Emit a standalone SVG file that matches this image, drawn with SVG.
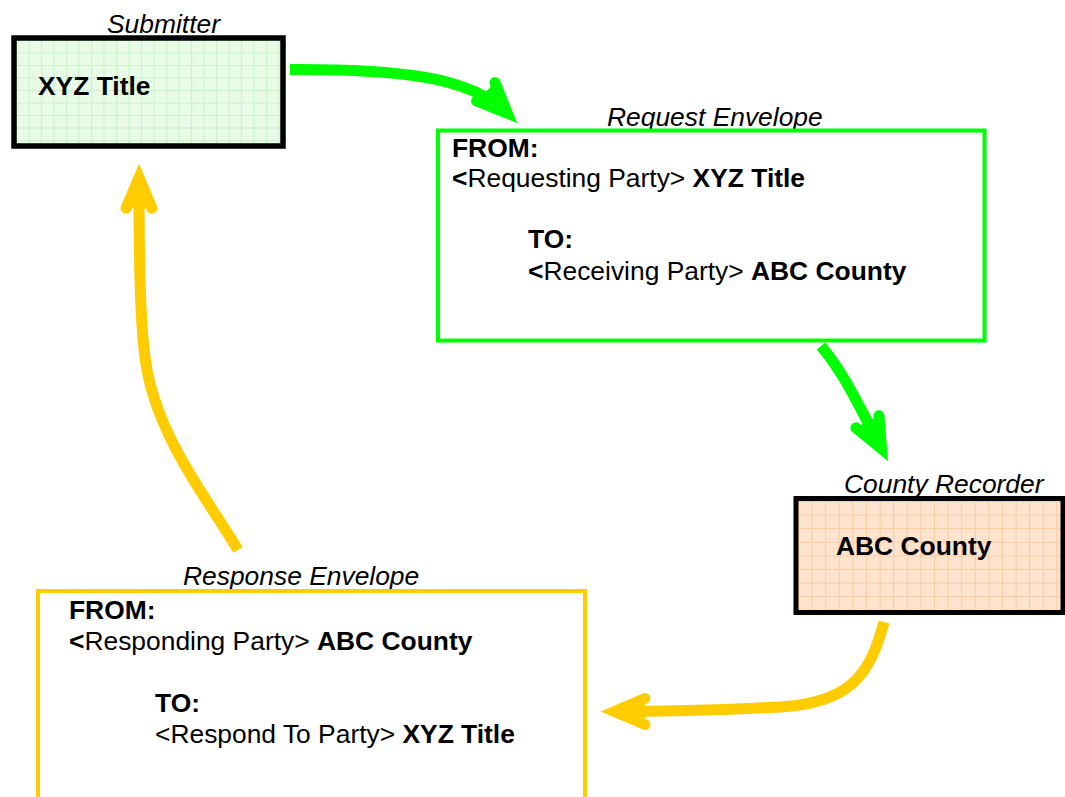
<svg xmlns="http://www.w3.org/2000/svg" width="1065" height="797" viewBox="0 0 1065 797">
  <style>
    text { font-family: "Liberation Sans", Arial, sans-serif; font-size: 26.4px; fill: #000; }
    .cap { font-style: italic; }
    .b { font-weight: bold; }
    .flow { fill: none; stroke-width: 11; stroke-linecap: butt; }
    .green { stroke: #00ff00; }
    .gold { stroke: #ffcc00; }
  </style>
  <defs>
    <!-- light grid fills for the two party boxes -->
    <pattern id="grid-green" patternUnits="userSpaceOnUse" x="16" y="40" width="12.5" height="12.5">
      <rect width="12.5" height="12.5" fill="#e7fbe6"/>
      <path d="M0,0.5 H12.5 M0.5,0 V12.5" stroke="#c9f3c8" stroke-width="1" fill="none"/>
    </pattern>
    <pattern id="grid-peach" patternUnits="userSpaceOnUse" x="798" y="501" width="13.6" height="13.6">
      <rect width="13.6" height="13.6" fill="#fee4cf"/>
      <path d="M0,0.5 H13.6 M0.5,0 V13.6" stroke="#fccb9e" stroke-width="1" fill="none"/>
    </pattern>
    <!-- thick open arrowheads; the tip sits 15px beyond the path end -->
    <marker id="head-green" markerUnits="userSpaceOnUse" orient="auto" viewBox="-40 -25 70 50" refX="0" refY="0" markerWidth="70" markerHeight="50" overflow="visible">
      <path d="M-30,-13 L0.5,0 L-30,13" fill="#00ff00" stroke="#00ff00" stroke-width="11" stroke-linecap="round" stroke-linejoin="miter"/>
    </marker>
    <marker id="head-gold" markerUnits="userSpaceOnUse" orient="auto" viewBox="-40 -25 70 50" refX="0" refY="0" markerWidth="70" markerHeight="50" overflow="visible">
      <path d="M-30,-13 L0.5,0 L-30,13" fill="#ffcc00" stroke="#ffcc00" stroke-width="11" stroke-linecap="round" stroke-linejoin="miter"/>
    </marker>
  </defs>

  <rect width="1065" height="797" fill="#ffffff"/>

  <!-- connectors -->
  <g id="connectors">
    <path class="flow green" d="M290,69.5 C395,69 470,76 507,113" marker-end="url(#head-green)"/>
    <path class="flow green" d="M821,346 C845,375 857,402 881.3,448.4" marker-end="url(#head-green)"/>
    <path class="flow gold" d="M884,622 C870,675 850,703 780,707 C720,710 660,711.5 615,711.5" marker-end="url(#head-gold)"/>
    <path class="flow gold" d="M238,550 C208,500 160,440 147,370 C139.5,330 139,250 139,178.3" marker-end="url(#head-gold)"/>
  </g>

  <!-- submitter -->
  <g id="submitter">
    <text class="cap" x="107" y="33">Submitter</text>
    <rect x="14" y="38" width="269" height="108" fill="url(#grid-green)" stroke="#000" stroke-width="5.5"/>
    <text class="b" x="38" y="95">XYZ Title</text>
  </g>

  <!-- request envelope -->
  <g id="request-envelope">
    <text class="cap" x="607" y="126">Request Envelope</text>
    <rect x="438" y="130.5" width="546.5" height="210" fill="none" stroke="#00ff00" stroke-width="4"/>
    <text class="b" x="452" y="157">FROM:</text>
    <text x="452" y="187"><tspan class="b">&lt;</tspan>Requesting Party&gt; <tspan class="b">XYZ Title</tspan></text>
    <text class="b" x="528" y="248">TO:</text>
    <text x="528" y="280"><tspan class="b">&lt;</tspan>Receiving Party&gt; <tspan class="b">ABC County</tspan></text>
  </g>

  <!-- county recorder -->
  <g id="county-recorder">
    <text class="cap" x="844" y="493">County Recorder</text>
    <rect x="796" y="498.5" width="267" height="114" fill="url(#grid-peach)" stroke="#000" stroke-width="5"/>
    <text class="b" x="836" y="555">ABC County</text>
  </g>

  <!-- response envelope -->
  <g id="response-envelope">
    <text class="cap" x="183" y="585">Response Envelope</text>
    <rect x="38" y="591" width="547" height="230" fill="none" stroke="#ffcc00" stroke-width="4"/>
    <text class="b" x="69" y="619">FROM:</text>
    <text x="69" y="650"><tspan class="b">&lt;</tspan>Responding Party&gt; <tspan class="b">ABC County</tspan></text>
    <text class="b" x="155" y="712">TO:</text>
    <text x="155" y="743">&lt;Respond To Party&gt; <tspan class="b">XYZ Title</tspan></text>
  </g>
</svg>
